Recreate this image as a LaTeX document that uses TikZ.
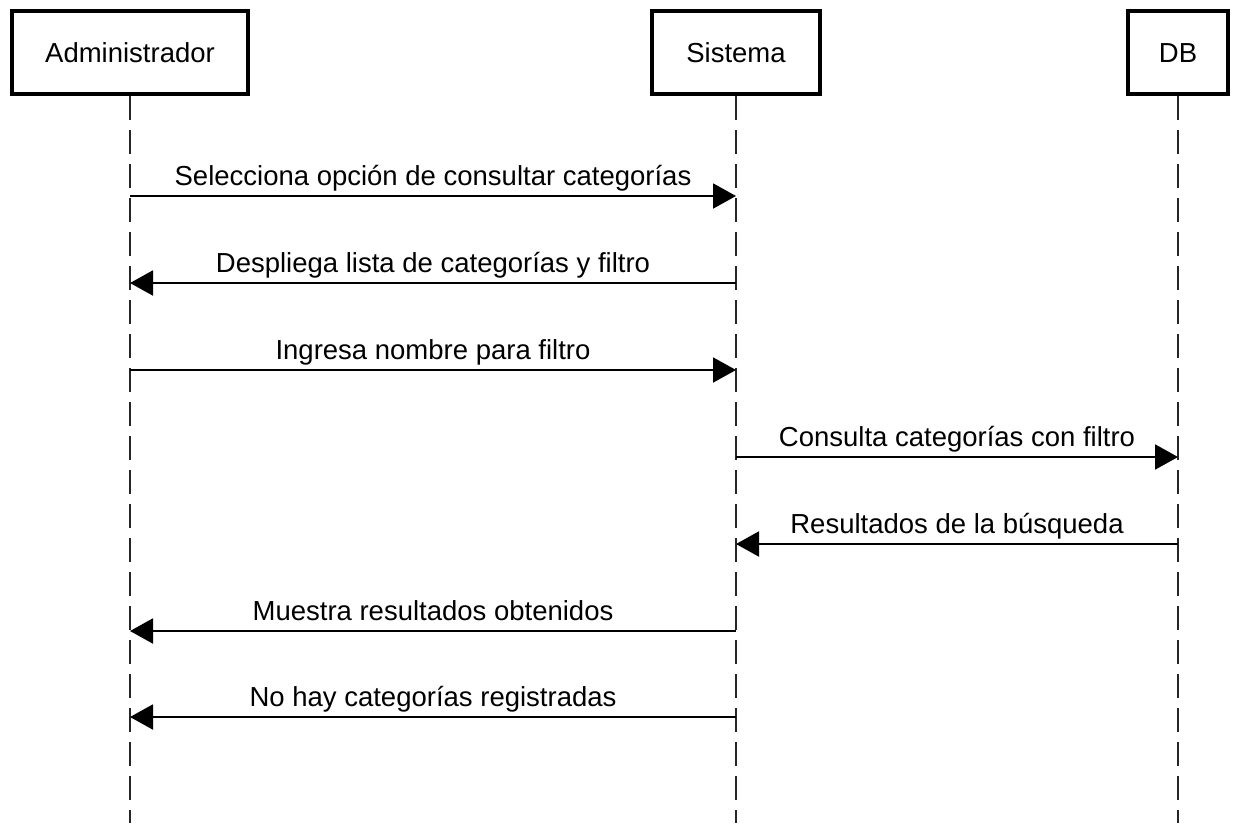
\documentclass[tikz,border=0pt]{standalone}
\usepackage{fontspec}
\setmainfont{Liberation Sans}
\usetikzlibrary{arrows.meta}
\pgfdeclarelayer{bg}
\pgfsetlayers{bg,main}
\begin{document}
\begin{tikzpicture}[x=1pt,y=-1pt,
  actor/.style={draw=black,line width=4pt,fill=white,rectangle,minimum height=83pt,inner sep=0pt,text height=20pt,text depth=0pt,font=\fontsize{27.5}{33}\selectfont},
  lifeline/.style={draw=black!85,line width=2pt,dash pattern=on 24pt off 10pt},
  msg/.style={draw=black,line width=2pt,-{Triangle[length=23pt,width=25pt]}},
  lbl/.style={midway,anchor=base,yshift=11pt,inner sep=0pt,font=\fontsize{27.5}{33}\selectfont}]
\useasboundingbox (0,0) rectangle (1233,823);
% lifeline bottoms
\coordinate (ab) at (130,823);
\coordinate (sb) at (736,823);
\coordinate (db) at (1178,823);
% actors
\node[actor,minimum width=236pt] (adm) at (130,52.5) {Administrador};
\node[actor,minimum width=168pt] (sis) at (736,52.5) {Sistema};
\node[actor,minimum width=100pt] (dbn) at (1178,52.5) {DB};
\begin{pgfonlayer}{bg}
\draw[lifeline] (adm.south) -- (ab);
\draw[lifeline] (sis.south) -- (sb);
\draw[lifeline] (dbn.south) -- (db);
\end{pgfonlayer}
% message end points
\coordinate (a1) at (130,196); \coordinate (s1) at (736,196);
\coordinate (a2) at (130,283); \coordinate (s2) at (736,283);
\coordinate (a3) at (130,370); \coordinate (s3) at (736,370);
\coordinate (s4) at (736,457); \coordinate (d4) at (1178,457);
\coordinate (s5) at (736,544); \coordinate (d5) at (1178,544);
\coordinate (a6) at (130,631); \coordinate (s6) at (736,631);
\coordinate (a7) at (130,717); \coordinate (s7) at (736,717);
% messages
\draw[msg] (a1) -- node[lbl] {Selecciona opción de consultar categorías} (s1);
\draw[msg] (s2) -- node[lbl] {Despliega lista de categorías y filtro} (a2);
\draw[msg] (a3) -- node[lbl] {Ingresa nombre para filtro} (s3);
\draw[msg] (s4) -- node[lbl] {Consulta categorías con filtro} (d4);
\draw[msg] (d5) -- node[lbl] {Resultados de la búsqueda} (s5);
\draw[msg] (s6) -- node[lbl] {Muestra resultados obtenidos} (a6);
\draw[msg] (s7) -- node[lbl] {No hay categorías registradas} (a7);
\end{tikzpicture}
\end{document}
